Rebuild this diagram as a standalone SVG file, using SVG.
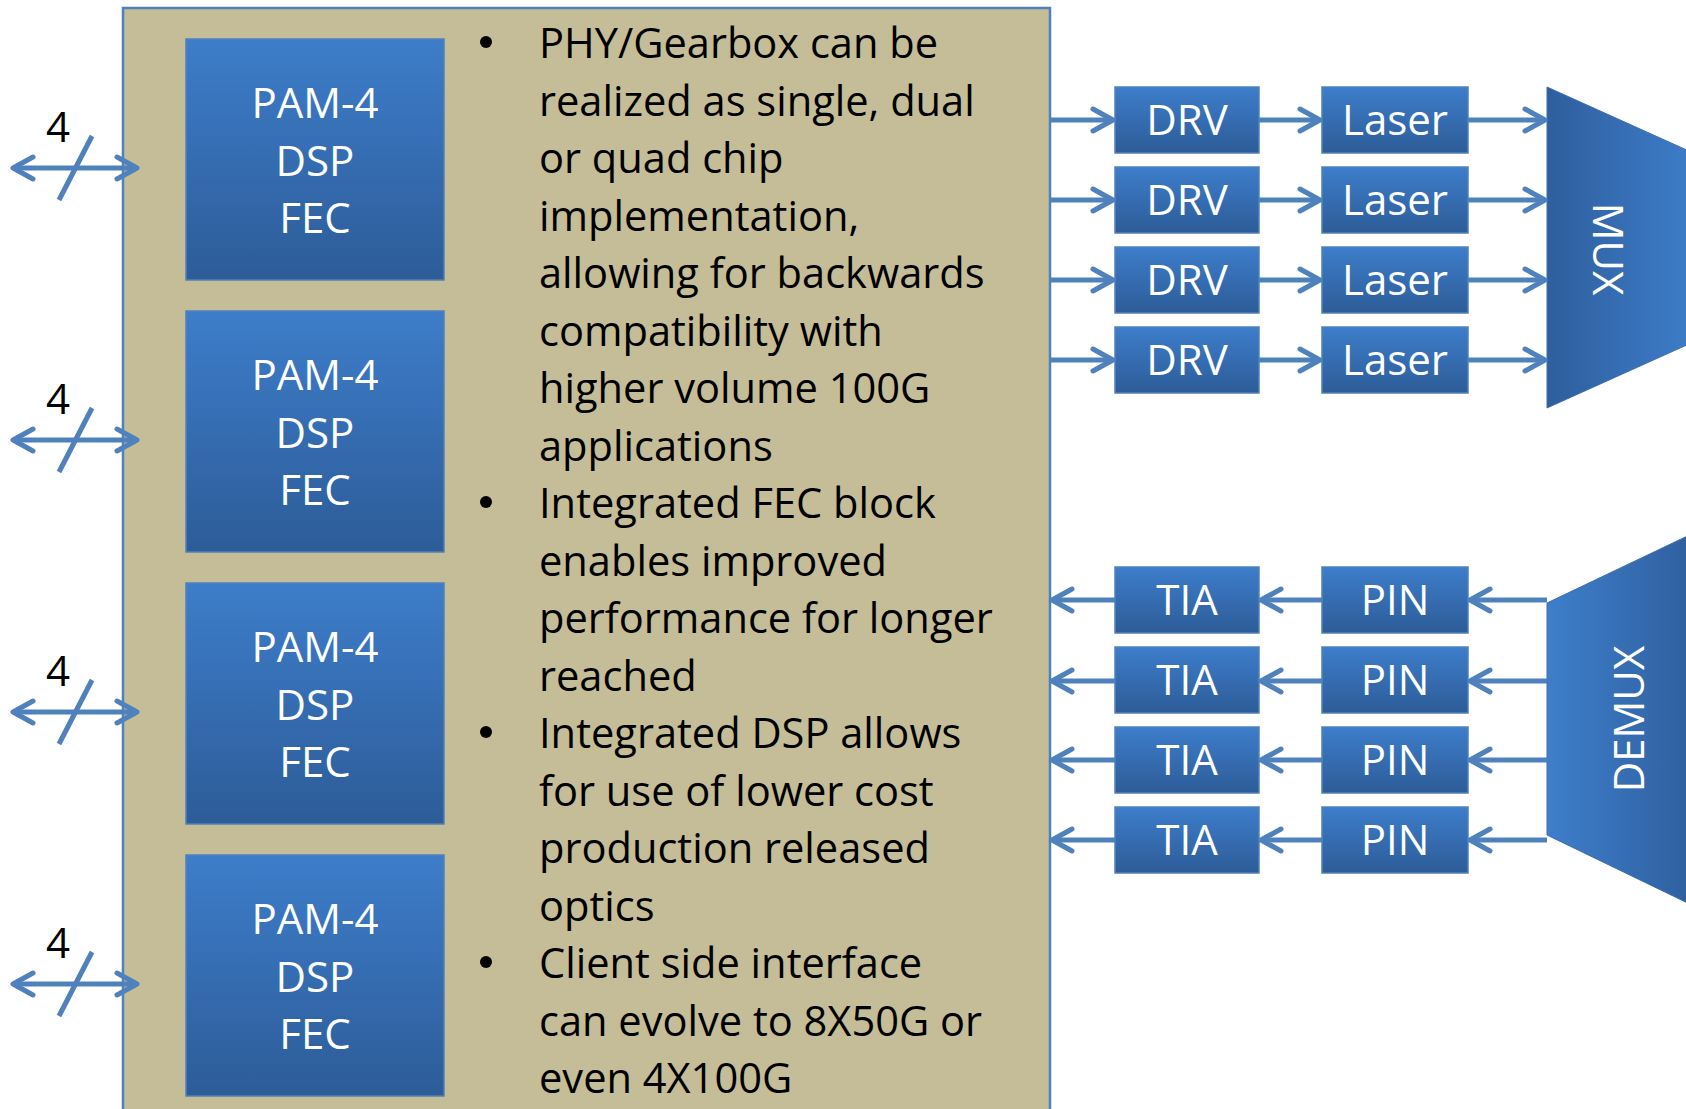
<svg xmlns="http://www.w3.org/2000/svg" width="1686" height="1109" viewBox="0 0 1686 1109">
<defs>
<linearGradient id="gBox" x1="0" y1="0" x2="0" y2="1">
<stop offset="0" stop-color="#3D7DCA"/>
<stop offset="1" stop-color="#2D5C98"/>
</linearGradient>
<linearGradient id="gMux" x1="0" y1="0" x2="1" y2="0">
<stop offset="0" stop-color="#2E5E9D"/>
<stop offset="1" stop-color="#3E7ECB"/>
</linearGradient>
<linearGradient id="gDemux" x1="0" y1="0" x2="1" y2="0">
<stop offset="0" stop-color="#3E7ECB"/>
<stop offset="1" stop-color="#2E5E9D"/>
</linearGradient>
<marker id="ah" markerUnits="userSpaceOnUse" markerWidth="40" markerHeight="40" viewBox="0 0 40 40" refX="28" refY="20" orient="auto-start-reverse" overflow="visible">
<path d="M 8 9 L 28 20 L 8 31" fill="none" stroke="#4F81BD" stroke-width="5" stroke-linecap="round" stroke-linejoin="round"/>
</marker>
</defs>
<style>
.box{fill:url(#gBox);stroke:#4F81BD;stroke-width:1.5}
.lbl{font-family:"Open Sans","Noto Sans",sans-serif;font-size:42px;fill:#FFFFFF;text-anchor:middle}
.txt{font-family:"Open Sans","Noto Sans",sans-serif;font-size:41.6px;fill:#000000}
.num{font-family:"Open Sans","Noto Sans",sans-serif;font-size:42px;fill:#000000;text-anchor:middle}
.con{fill:none;stroke:#4F81BD;stroke-width:5}
.arr{fill:none;stroke:#4F81BD;stroke-width:5;marker-end:url(#ah)}
.dbl{fill:none;stroke:#4F81BD;stroke-width:5;marker-start:url(#ah);marker-end:url(#ah)}
</style>
<rect width="1686" height="1109" fill="#FFFFFF"/>

<g id="phy-container">
<rect x="123" y="8" width="927" height="1130" fill="#C4BD97" stroke="#4F81BD" stroke-width="2.5"/>
</g>

<g id="notes">
<circle cx="486" cy="42" r="6" fill="#000"/>
<circle cx="486" cy="502" r="6" fill="#000"/>
<circle cx="486" cy="732" r="6" fill="#000"/>
<circle cx="486" cy="962" r="6" fill="#000"/>
<text class="txt">
<tspan x="539" y="58">PHY/Gearbox can be</tspan>
<tspan x="539" y="115.5">realized as single, dual</tspan>
<tspan x="539" y="173">or quad chip</tspan>
<tspan x="539" y="230.5">implementation,</tspan>
<tspan x="539" y="288">allowing for backwards</tspan>
<tspan x="539" y="345.5">compatibility with</tspan>
<tspan x="539" y="403">higher volume 100G</tspan>
<tspan x="539" y="460.5">applications</tspan>
<tspan x="539" y="518">Integrated FEC block</tspan>
<tspan x="539" y="575.5">enables improved</tspan>
<tspan x="539" y="633">performance for longer</tspan>
<tspan x="539" y="690.5">reached</tspan>
<tspan x="539" y="748">Integrated DSP allows</tspan>
<tspan x="539" y="805.5">for use of lower cost</tspan>
<tspan x="539" y="863">production released</tspan>
<tspan x="539" y="920.5">optics</tspan>
<tspan x="539" y="978">Client side interface</tspan>
<tspan x="539" y="1035.5">can evolve to 8X50G or</tspan>
<tspan x="539" y="1093">even 4X100G</tspan>
</text>
</g>

<g id="dsp1"><rect class="box" x="186" y="39" width="258" height="241"/>
<text class="lbl"><tspan x="315" y="118">PAM-4</tspan><tspan x="315" y="175.5">DSP</tspan><tspan x="315" y="233">FEC</tspan></text></g>
<g id="dsp2"><rect class="box" x="186" y="311" width="258" height="241"/>
<text class="lbl"><tspan x="315" y="390">PAM-4</tspan><tspan x="315" y="447.5">DSP</tspan><tspan x="315" y="505">FEC</tspan></text></g>
<g id="dsp3"><rect class="box" x="186" y="583" width="258" height="241"/>
<text class="lbl"><tspan x="315" y="662">PAM-4</tspan><tspan x="315" y="719.5">DSP</tspan><tspan x="315" y="777">FEC</tspan></text></g>
<g id="dsp4"><rect class="box" x="186" y="855" width="258" height="241"/>
<text class="lbl"><tspan x="315" y="934">PAM-4</tspan><tspan x="315" y="991.5">DSP</tspan><tspan x="315" y="1049">FEC</tspan></text></g>

<g id="drv1"><rect class="box" x="1115" y="87" width="144" height="66"/><text class="lbl" x="1187" y="135">DRV</text></g>
<g id="drv2"><rect class="box" x="1115" y="167" width="144" height="66"/><text class="lbl" x="1187" y="215">DRV</text></g>
<g id="drv3"><rect class="box" x="1115" y="247" width="144" height="66"/><text class="lbl" x="1187" y="295">DRV</text></g>
<g id="drv4"><rect class="box" x="1115" y="327" width="144" height="66"/><text class="lbl" x="1187" y="375">DRV</text></g>

<g id="laser1"><rect class="box" x="1322" y="87" width="146" height="66"/><text class="lbl" x="1395" y="135">Laser</text></g>
<g id="laser2"><rect class="box" x="1322" y="167" width="146" height="66"/><text class="lbl" x="1395" y="215">Laser</text></g>
<g id="laser3"><rect class="box" x="1322" y="247" width="146" height="66"/><text class="lbl" x="1395" y="295">Laser</text></g>
<g id="laser4"><rect class="box" x="1322" y="327" width="146" height="66"/><text class="lbl" x="1395" y="375">Laser</text></g>

<g id="tia1"><rect class="box" x="1115" y="567" width="144" height="66"/><text class="lbl" x="1187" y="615">TIA</text></g>
<g id="tia2"><rect class="box" x="1115" y="647" width="144" height="66"/><text class="lbl" x="1187" y="695">TIA</text></g>
<g id="tia3"><rect class="box" x="1115" y="727" width="144" height="66"/><text class="lbl" x="1187" y="775">TIA</text></g>
<g id="tia4"><rect class="box" x="1115" y="807" width="144" height="66"/><text class="lbl" x="1187" y="855">TIA</text></g>

<g id="pin1"><rect class="box" x="1322" y="567" width="146" height="66"/><text class="lbl" x="1395" y="615">PIN</text></g>
<g id="pin2"><rect class="box" x="1322" y="647" width="146" height="66"/><text class="lbl" x="1395" y="695">PIN</text></g>
<g id="pin3"><rect class="box" x="1322" y="727" width="146" height="66"/><text class="lbl" x="1395" y="775">PIN</text></g>
<g id="pin4"><rect class="box" x="1322" y="807" width="146" height="66"/><text class="lbl" x="1395" y="855">PIN</text></g>

<g id="mux">
<polygon points="1547,87 1700,156 1700,339 1547,408" fill="url(#gMux)" stroke="#3A6FB0" stroke-width="1"/>
<text class="lbl" transform="translate(1608,249) rotate(90)" x="0" y="15">MUX</text>
</g>
<g id="demux">
<polygon points="1547,603 1700,530 1700,909 1547,835" fill="url(#gDemux)" stroke="#3A6FB0" stroke-width="1"/>
<text class="lbl" transform="translate(1629,719) rotate(-90)" x="0" y="15">DEMUX</text>
</g>

<g id="lane-labels">
<text class="num" x="58" y="142">4</text>
<text class="num" x="58" y="414">4</text>
<text class="num" x="58" y="686">4</text>
<text class="num" x="58" y="958">4</text>
</g>

<g id="connectors">
<line class="dbl" x1="13" y1="168" x2="137" y2="168"/>
<line class="dbl" x1="13" y1="440" x2="137" y2="440"/>
<line class="dbl" x1="13" y1="712" x2="137" y2="712"/>
<line class="dbl" x1="13" y1="984" x2="137" y2="984"/>
<line class="con" x1="92" y1="136" x2="59" y2="200"/>
<line class="con" x1="92" y1="408" x2="59" y2="472"/>
<line class="con" x1="92" y1="680" x2="59" y2="744"/>
<line class="con" x1="92" y1="952" x2="59" y2="1016"/>

<line class="arr" x1="1050" y1="120" x2="1113" y2="120"/>
<line class="arr" x1="1259" y1="120" x2="1320" y2="120"/>
<line class="arr" x1="1468" y1="120" x2="1545" y2="120"/>
<line class="arr" x1="1050" y1="200" x2="1113" y2="200"/>
<line class="arr" x1="1259" y1="200" x2="1320" y2="200"/>
<line class="arr" x1="1468" y1="200" x2="1545" y2="200"/>
<line class="arr" x1="1050" y1="280" x2="1113" y2="280"/>
<line class="arr" x1="1259" y1="280" x2="1320" y2="280"/>
<line class="arr" x1="1468" y1="280" x2="1545" y2="280"/>
<line class="arr" x1="1050" y1="360" x2="1113" y2="360"/>
<line class="arr" x1="1259" y1="360" x2="1320" y2="360"/>
<line class="arr" x1="1468" y1="360" x2="1545" y2="360"/>

<line class="arr" x1="1547" y1="600" x2="1470" y2="600"/>
<line class="arr" x1="1322" y1="600" x2="1261" y2="600"/>
<line class="arr" x1="1115" y1="600" x2="1052" y2="600"/>
<line class="arr" x1="1547" y1="681" x2="1470" y2="681"/>
<line class="arr" x1="1322" y1="681" x2="1261" y2="681"/>
<line class="arr" x1="1115" y1="681" x2="1052" y2="681"/>
<line class="arr" x1="1547" y1="760" x2="1470" y2="760"/>
<line class="arr" x1="1322" y1="760" x2="1261" y2="760"/>
<line class="arr" x1="1115" y1="760" x2="1052" y2="760"/>
<line class="arr" x1="1547" y1="840" x2="1470" y2="840"/>
<line class="arr" x1="1322" y1="840" x2="1261" y2="840"/>
<line class="arr" x1="1115" y1="840" x2="1052" y2="840"/>
</g>
</svg>
